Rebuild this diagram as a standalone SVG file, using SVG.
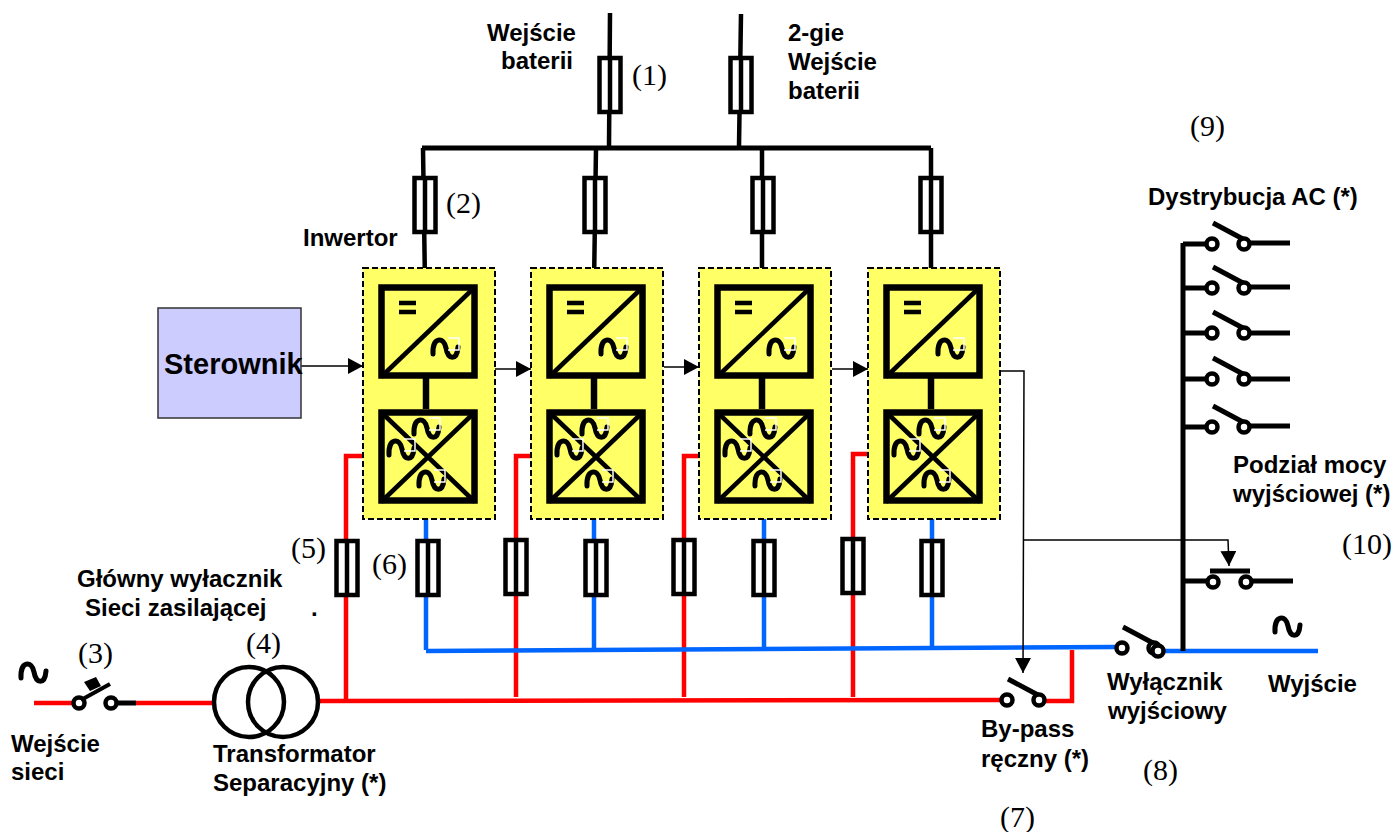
<svg xmlns="http://www.w3.org/2000/svg" xmlns:xlink="http://www.w3.org/1999/xlink" width="1394" height="832" viewBox="0 0 1394 832">
<style>
.b{font-family:"Liberation Sans",Arial,sans-serif;font-weight:bold;font-size:24px;fill:#000}
.n{font-family:"Liberation Serif","Times New Roman",serif;font-size:30px;fill:#000}
.k{fill:none;stroke:#000;stroke-width:5}
.w{fill:none;stroke:#000;stroke-width:4.5}
.r{fill:none;stroke:#f00;stroke-width:4.5}
.u{fill:none;stroke:#0066ff;stroke-width:4.5}
.c{fill:none;stroke:#000;stroke-width:1.5}
.d{fill:#ffff66;stroke:#000;stroke-width:2;stroke-dasharray:6 3}
.h{fill:none;stroke:#000;stroke-width:5;stroke-linecap:round}
.hw{fill:none;stroke:#fff;stroke-width:1.5}
</style>
<defs>
<marker id="arr" markerWidth="16" markerHeight="16" refX="15" refY="8" orient="auto" markerUnits="userSpaceOnUse"><path d="M0,0L15,8L0,16Z" fill="#000"/></marker>
<g id="fuse"><rect x="-10.5" y="0" width="21" height="54" fill="#fff" stroke="#000" stroke-width="4.5"/><path d="M0,0V54" stroke="#000" stroke-width="4.5"/></g>
<path id="tilde" d="M-12,5C-13,-12 -1,-13 1,-1C3,11 12,12 13,-2" class="h"/>
<g id="swN">
<circle cx="0" cy="0" r="5.5" fill="#fff" stroke="#000" stroke-width="4.5"/>
<circle cx="32" cy="0" r="5.5" fill="#fff" stroke="#000" stroke-width="4.5"/>
<path d="M1,-21L31,-5" class="k"/>
</g>
<g id="tg"><use xlink:href="#tilde" href="#tilde"/><path d="M3,-11H14V1H3" class="hw"/></g>
<g id="mod">
<rect x="363" y="268" width="132" height="251" class="d"/>
<rect x="381.5" y="287.5" width="93" height="88" fill="#ffff66" stroke="#000" stroke-width="6.5"/>
<path d="M381,377L475,287" class="w"/>
<path d="M399,303H416M399,312H416" class="w"/>
<use xlink:href="#tg" href="#tg" x="445" y="349"/>
<path d="M426,377V409" stroke="#000" stroke-width="6.5"/>
<rect x="381.5" y="412.5" width="93" height="88" fill="#ffff66" stroke="#000" stroke-width="6.5"/>
<path d="M381,412L475,502M475,412L381,502" class="w"/>
<use xlink:href="#tg" href="#tg" x="426" y="429"/>
<use xlink:href="#tg" href="#tg" x="401" y="450"/>
<use xlink:href="#tg" href="#tg" x="431" y="481"/>
</g>
</defs>

<g id="connectors">
<path d="M610,13L609,146M741,14L739,146" class="w"/>
<path d="M422,148H931" class="k"/>
<path d="M423,148L425,285M596,148L594,285M762,148L762,285M931,148L931,285" class="w"/>
<path d="M378,456H346V700M547,456H516V697M715,456H684V697M884,454H853V697" class="r"/>
<path d="M426,504V650M594,504V648M764,504V648M932,504V648" class="u"/>
<path d="M426,651L1115,647M1165,651H1318" class="u"/>
<path d="M320,701L1002,700M1046,701H1072V650" class="r"/>
<path d="M34,703H72M136,703H213" class="r"/>
<path d="M118,703H136" class="k"/>
<path d="M301,366H363" class="c" marker-end="url(#arr)"/>
<path d="M495,369H531" class="c" marker-end="url(#arr)"/>
<path d="M664,367H699" class="c" marker-end="url(#arr)"/>
<path d="M832,369H868" class="c" marker-end="url(#arr)"/>
<path d="M1000,371H1024L1023,673" class="c" marker-end="url(#arr)"/>
<path d="M1024,540H1228L1229,566" class="c" marker-end="url(#arr)"/>
<path d="M1183,243V651" class="k"/>
<path d="M1183,244H1207M1183,288H1207M1183,333H1207M1183,379H1207M1183,427H1207M1250,243H1290M1250,287H1290M1250,333H1290M1250,379H1290M1250,426H1290M1183,581H1207M1252,581H1293" class="k"/>
</g>

<g id="fuses">
<use xlink:href="#fuse" href="#fuse" x="610" y="58"/>
<use xlink:href="#fuse" href="#fuse" x="741" y="58"/>
<use xlink:href="#fuse" href="#fuse" x="425" y="178"/>
<use xlink:href="#fuse" href="#fuse" x="595" y="178"/>
<use xlink:href="#fuse" href="#fuse" x="763" y="178"/>
<use xlink:href="#fuse" href="#fuse" x="931" y="178"/>
<use xlink:href="#fuse" href="#fuse" x="347" y="541"/>
<use xlink:href="#fuse" href="#fuse" x="428" y="541"/>
<use xlink:href="#fuse" href="#fuse" x="516" y="540"/>
<use xlink:href="#fuse" href="#fuse" x="596" y="541"/>
<use xlink:href="#fuse" href="#fuse" x="684" y="540"/>
<use xlink:href="#fuse" href="#fuse" x="764" y="541"/>
<use xlink:href="#fuse" href="#fuse" x="853" y="539"/>
<use xlink:href="#fuse" href="#fuse" x="932" y="541"/>
</g>

<g id="inverter1"><use xlink:href="#mod" href="#mod"/></g>
<g id="inverter2"><use xlink:href="#mod" href="#mod" x="168"/></g>
<g id="inverter3"><use xlink:href="#mod" href="#mod" x="336"/></g>
<g id="inverter4"><use xlink:href="#mod" href="#mod" x="505"/></g>

<g id="sterownik">
<rect x="158" y="308" width="143" height="110" fill="#ccccff" stroke="#333" stroke-width="1.5"/>
<text x="164" y="374" class="b" style="font-size:29px">Sterownik</text>
</g>

<g id="main-switch">
<circle cx="79" cy="703" r="5.5" fill="#fff" stroke="#000" stroke-width="4.5"/>
<circle cx="111" cy="703" r="5.5" fill="#fff" stroke="#000" stroke-width="4.5"/>
<path d="M81,700L110,684" stroke="#000" stroke-width="4"/>
<path d="M84,682L96,677L101,686L90,691Z" fill="#000"/>
</g>

<g id="transformer">
<circle cx="249" cy="702" r="35" fill="none" stroke="#000" stroke-width="4.5"/>
<circle cx="283" cy="702" r="35" fill="none" stroke="#000" stroke-width="4.5"/>
</g>

<g id="switch-bypass"><use xlink:href="#swN" href="#swN" x="1007" y="700"/></g>
<g id="switch-output"><use xlink:href="#swN" href="#swN" x="1122" y="648"/><circle cx="1158" cy="651" r="5.5" fill="#fff" stroke="#000" stroke-width="4.5"/></g>
<g id="dist-switches">
<use xlink:href="#swN" href="#swN" x="1212" y="244"/>
<use xlink:href="#swN" href="#swN" x="1212" y="288"/>
<use xlink:href="#swN" href="#swN" x="1212" y="333"/>
<use xlink:href="#swN" href="#swN" x="1212" y="379"/>
<use xlink:href="#swN" href="#swN" x="1212" y="427"/>
</g>
<g id="switch-split">
<circle cx="1213" cy="582" r="5.5" fill="#fff" stroke="#000" stroke-width="4.5"/>
<circle cx="1246" cy="582" r="5.5" fill="#fff" stroke="#000" stroke-width="4.5"/>
<path d="M1210,571H1250" class="k"/>
</g>
<use xlink:href="#tilde" href="#tilde" x="33" y="673"/>
<use xlink:href="#tilde" href="#tilde" x="1287" y="627"/>

<g id="labels">
<text x="487" y="41" class="b">Wejście</text>
<text x="501" y="69" class="b">baterii</text>
<text x="788" y="41" class="b">2-gie</text>
<text x="788" y="70" class="b">Wejście</text>
<text x="788" y="99" class="b">baterii</text>
<text x="632" y="85" class="n">(1)</text>
<text x="446" y="213" class="n">(2)</text>
<text x="78" y="663" class="n">(3)</text>
<text x="246" y="653" class="n">(4)</text>
<text x="291" y="558" class="n">(5)</text>
<text x="372" y="574" class="n">(6)</text>
<text x="1000" y="827" class="n">(7)</text>
<text x="1143" y="780" class="n">(8)</text>
<text x="1190" y="136" class="n">(9)</text>
<text x="1342" y="554" class="n">(10)</text>
<text x="303" y="246" class="b">Inwertor</text>
<text x="1148" y="205" class="b">Dystrybucja AC (*)</text>
<text x="1233" y="473" class="b">Podział mocy</text>
<text x="1233" y="502" class="b">wyjściowej (*)</text>
<text x="77" y="587" class="b">Główny wyłacznik</text>
<text x="85" y="616" class="b">Sieci zasilającej</text>
<text x="311" y="616" class="b">.</text>
<text x="11" y="752" class="b">Wejście</text>
<text x="11" y="780" class="b">sieci</text>
<text x="213" y="762" class="b">Transformator</text>
<text x="213" y="791" class="b">Separacyjny (*)</text>
<text x="981" y="737" class="b">By-pass</text>
<text x="981" y="767" class="b">ręczny (*)</text>
<text x="1107" y="690" class="b">Wyłącznik</text>
<text x="1108" y="719" class="b">wyjściowy</text>
<text x="1268" y="692" class="b">Wyjście</text>
</g>
</svg>
